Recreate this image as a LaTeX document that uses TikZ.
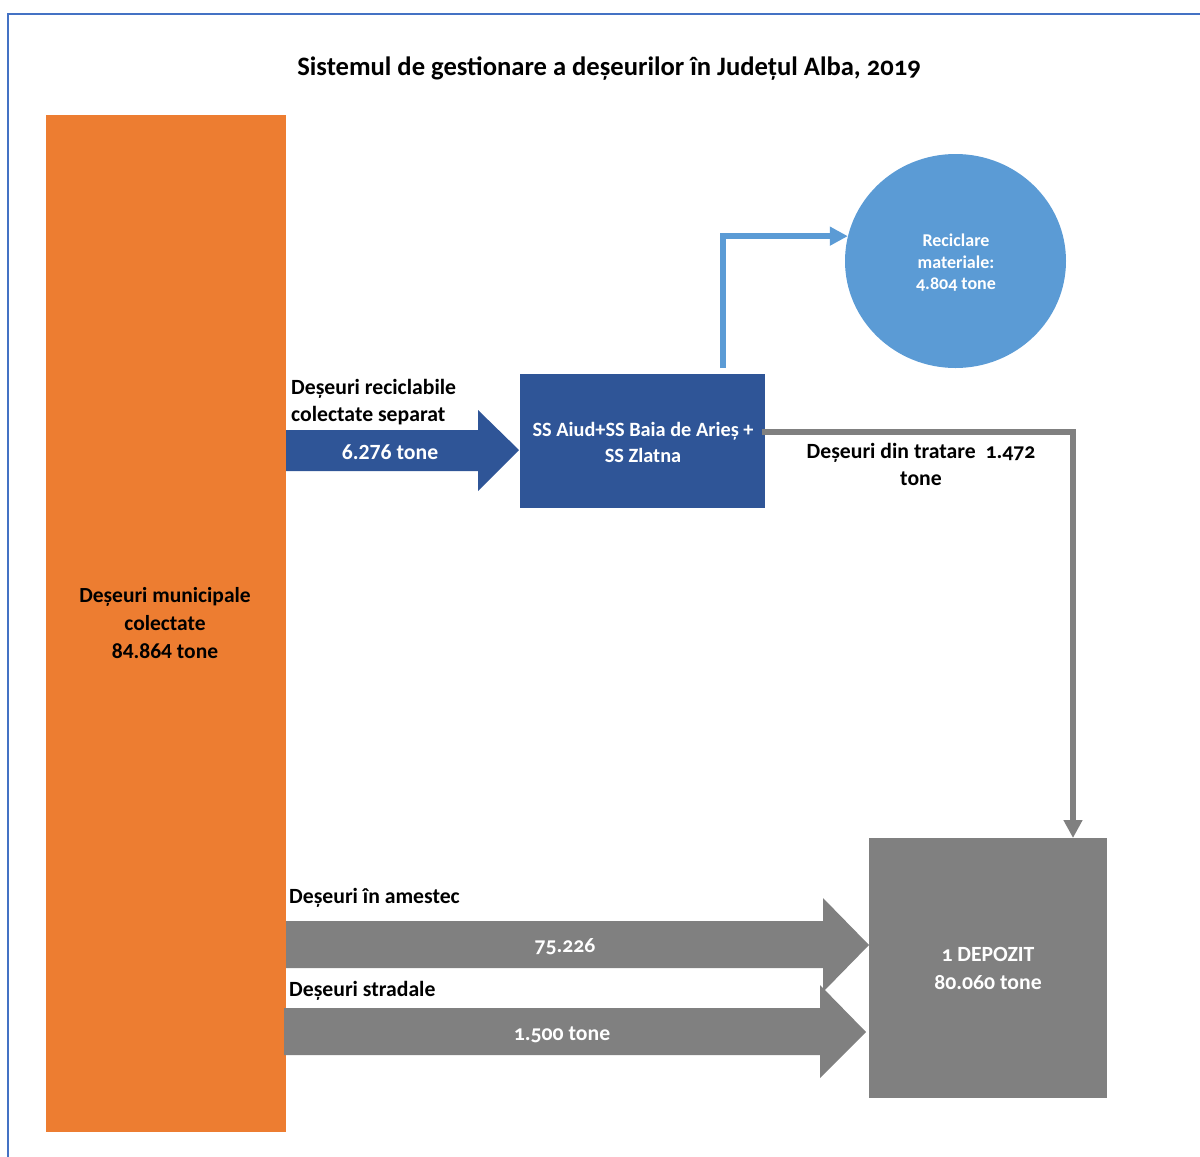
\documentclass[tikz,border=0pt]{standalone}
\usepackage{fontspec}
\setmainfont{Carlito}
\newfontfamily\oldnum[Numbers=OldStyle]{Carlito}
\usetikzlibrary{arrows.meta,shapes.geometric}
\definecolor{frameblue}{HTML}{4472C4}
\definecolor{orangeF}{HTML}{ED7D31}
\definecolor{darkblue}{HTML}{2F5597}
\definecolor{lightblue}{HTML}{5B9BD5}
\definecolor{grayF}{HTML}{808080}
\tikzset{
  lbl/.style={font=\bfseries\fontsize{21.7}{27.5}\selectfont, text=black, inner sep=0pt, align=left},
  wlbl/.style={font=\bfseries\fontsize{21.7}{28}\selectfont, text=white, inner sep=0pt, align=center},
  flowline/.style={line width=6pt, -{Triangle[length=18pt,width=18pt]}},
}
\begin{document}
\begin{tikzpicture}[x=1pt,y=-1pt]
\useasboundingbox (0,0) rectangle (1200,1157);
% frame
\draw[frameblue, line width=2pt] (8,1157) -- (8,14) -- (1200,14);
% title
\node[font=\bfseries\fontsize{26.6}{30}\selectfont\oldnum, inner sep=0pt] (title) at (609,69) {Sistemul de gestionare a deșeurilor în Județul Alba, 2019};
% orange column
\node[fill=orangeF, minimum width=240pt, minimum height=1017pt, inner sep=0pt, anchor=north west] (mun) at (46,115) {};
\node[lbl, align=center, font=\bfseries\fontsize{21.5}{28}\selectfont] (muntxt) at (165,623) {Deșeuri municipale\\colectate\\84.864 tone};
% blue arrow
\fill[darkblue] (286,430) -- (478,430) -- (478,410) -- (519,450) -- (478,491) -- (478,471) -- (286,471) -- cycle;
\node[wlbl] (recval) at (390,452) {6.276 tone};
\node[lbl, anchor=north west] (rectxt) at (291,379) {Deșeuri reciclabile\\colectate separat};
% SS box
\node[fill=darkblue, minimum width=245pt, minimum height=134pt, inner sep=0pt, anchor=north west] (ss) at (520,374) {};
\node[font=\bfseries\fontsize{20.3}{26}\selectfont, text=white, align=center, inner sep=0pt] (sstxt) at (643,442) {SS Aiud+SS Baia de Arieș +\\SS Zlatna};
% circle
\node[ellipse, fill=lightblue, minimum width=221pt, minimum height=214pt, inner sep=0pt] (circ) at (955.5,261) {};
\node[font=\bfseries\fontsize{18}{21.5}\selectfont\oldnum, text=white, align=center, inner sep=0pt] (circtxt) at (956,263) {Reciclare\\materiale:\\4.804 tone};
% light blue elbow
\coordinate (lbstart) at (723,368);
\draw[lightblue, flowline] (lbstart) |- (circ.167);
% depozit box
\node[fill=grayF, minimum width=238pt, minimum height=260pt, inner sep=0pt, anchor=north west] (dep) at (869,838) {};
\node[font=\bfseries\fontsize{21.7}{28}\selectfont\oldnum, text=white, align=center, inner sep=0pt] (deptxt) at (988,968) {1 DEPOZIT\\80.060 tone};
% gray elbow
\coordinate (gstart) at (762,432);
\coordinate (gcorner) at (1073,432);
\draw[grayF, flowline] (gstart) -- (gcorner) -- (dep.north -| gcorner);
\node[lbl, align=center, font=\bfseries\fontsize{21.7}{27}\selectfont\oldnum] (trat) at (921,464) {Deșeuri din tratare~~1.472\\tone};
% gray arrow 1
\fill[grayF] (286,921) -- (823,921) -- (823,898) -- (869,945) -- (823,992) -- (823,968) -- (286,968) -- cycle;
\node[wlbl, font=\bfseries\fontsize{21.7}{28}\selectfont\oldnum] (v1) at (565,947) {75.226};
\node[lbl, anchor=west] (am) at (289,898) {Deșeuri în amestec};
% gray arrow 2
\fill[grayF] (284,1008) -- (820,1008) -- (820,985) -- (866,1032) -- (820,1078) -- (820,1055) -- (284,1055) -- cycle;
\node[wlbl, font=\bfseries\fontsize{21.7}{28}\selectfont\oldnum] (v2) at (562,1035) {1.500 tone};
\node[lbl, anchor=west] (str) at (289,991) {Deșeuri stradale};
\end{tikzpicture}
\end{document}
